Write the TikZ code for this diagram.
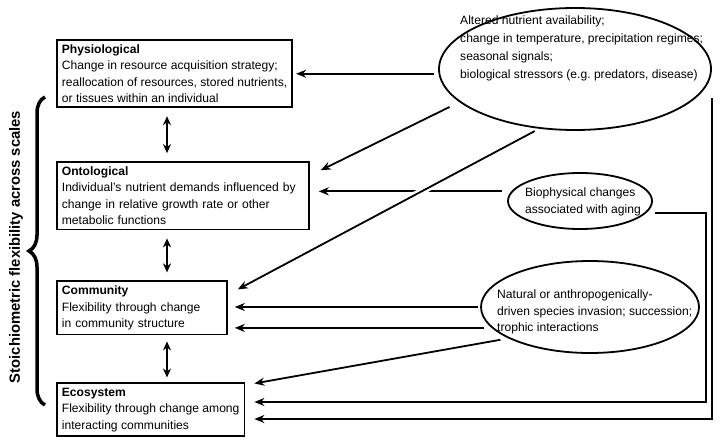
\documentclass[tikz,border=0pt]{standalone}
\usepackage{fontspec}
\setmainfont{Liberation Sans}
\usetikzlibrary{arrows.meta,positioning,shapes.geometric,decorations.pathreplacing,backgrounds,calc}

\begin{document}
\begin{tikzpicture}
[x=1pt,y=-1pt,
font=\fontsize{12.1}{16.5}\selectfont,
level/.style={rectangle,draw,line width=1.8pt,align=left,inner xsep=5pt,inner ysep=4.5pt},
driver/.style={ellipse,draw,line width=1.8pt,inner sep=0pt},
note/.style={align=left,inner sep=0pt},
post/.style={->,>={Stealth[length=10pt,width=8pt]},line width=1.8pt},
both/.style={<->,>={Stealth[length=9pt,width=8pt]},line width=1.8pt,shorten <=8pt,shorten >=8pt}]
\useasboundingbox (0,0) rectangle (727,441);
% scales
\node[level,anchor=north west] (physio) at (56,39) {\textbf{Physiological}\\Change in resource acquisition strategy;\\reallocation of resources, stored nutrients,\\or tissues within an individual};
\node[level,text width=242pt] (onto) [below=53pt of physio.south west,anchor=north west] {\textbf{Ontological}\\Individual's nutrient demands influenced by\\change in relative growth rate or other\\metabolic functions};
\node[level,text width=160pt] (comm) [below=50pt of onto.south west,anchor=north west] {\textbf{Community}\\Flexibility through change\\in community structure};
\node[level] (eco) [below=47pt of comm.south west,anchor=north west] {\textbf{Ecosystem}\\Flexibility through change among\\interacting communities};
% drivers
\node[driver,minimum width=272pt,minimum height=122pt] (env) at (575,69) {};
\node[note,anchor=west,font=\fontsize{12.1}{18}\selectfont] (envtext) at (460,48) {Altered nutrient availability;\\change in temperature, precipitation regimes;\\seasonal signals;\\biological stressors (e.g.\ predators, disease)};
\node[driver,minimum width=144pt,minimum height=56pt] (aging) at (580,201) {};
\node[note,font=\fontsize{12.1}{17}\selectfont] (agingtext) at (583,202) {Biophysical changes\\associated with aging};
\node[driver,minimum width=218pt,minimum height=92pt] (invasion) at (590,307) {};
\node[note,anchor=west] (invasiontext) at (497,312) {Natural or anthropogenically-\\driven species invasion; succession;\\trophic interactions};
\node[rotate=90,font=\bfseries\fontsize{14.8}{16}\selectfont] (scaletext) at (16,247) {Stoichiometric flexibility across scales};
\coordinate (axis) at (167,0);
\coordinate (inner rail) at (706,402);
\coordinate (outer rail) at (712,419);
\draw[decorate,decoration={brace,amplitude=16pt},line width=3.5pt] (45,405) -- (45,97);
\begin{scope}[on background layer]
\draw[both] (axis |- physio.south) -- (axis |- onto.north);
\draw[both] (axis |- onto.south) -- (axis |- comm.north);
\draw[both,shorten <=6pt,shorten >=5pt] (axis |- comm.south) -- (axis |- eco.north);
\draw[post,shorten <=5pt,shorten >=3pt] (env.182) -- (env.182 -| physio.east);
\draw[post,shorten <=11pt] (env.196) -- ([xshift=11pt,yshift=-9pt]onto.north east);
\draw[post,shorten <=9pt,shorten >=9pt] (aging.172) -- (aging.172 -| onto.east);
\draw[post,shorten <=5pt,preaction={draw=white,line width=7pt,-}] (env.239) -- ([xshift=10pt,yshift=-9pt]comm.north east);
\draw[post,shorten <=8pt,shorten >=9pt] (aging.350) -| (inner rail) -- (inner rail -| eco.east);
\draw[post,shorten >=9pt] ([yshift=-29pt]env.east) -- (env.east |- outer rail) -- (outer rail -| eco.east);
\draw[post,shorten <=2pt,shorten >=7pt] (invasion.180) -- (invasion.180 -| comm.east);
\draw[post,shorten <=8pt,shorten >=7pt] (invasion.192) -- (invasion.192 -| comm.east);
\draw[post,shorten <=8pt] (invasion.201) -- ([xshift=9pt,yshift=-1pt]eco.north east);
\end{scope}
\end{tikzpicture}
\end{document}
